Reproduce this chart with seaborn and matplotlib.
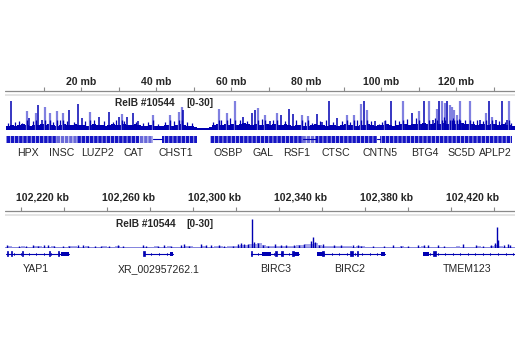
import numpy as np
import pandas as pd
import matplotlib
matplotlib.use("Agg")
import matplotlib.pyplot as plt
import seaborn as sns

sns.set_theme(style="white")
plt.rcParams['font.family'] = ['Liberation Sans', 'DejaVu Sans']
plt.rcParams['hatch.linewidth'] = 0.6

# ---------------- data: top panel (chr11, mb) ----------------
top_ticks_mb = [10, 20, 30, 40, 50, 60, 70, 80, 90, 100, 110, 120, 130]
top_label_mb = [20, 40, 60, 80, 100, 120]
top_labels = ["20 mb", "40 mb", "60 mb", "80 mb", "100 mb", "120 mb"]

top_base = [4, 5, 4, 5, 6, 5, 4, 5, 5, 6,
            5, 6, 5, 4, 5, 6, 5, 5, 6, 5,
            5, 4, 5, 6, 5, 5, 4, 5, 6, 5,
            5, 6, 5, 5, 6, 5, 4, 4, 5, 4,
            4, 4, 5, 5, 4, 5, 6, 5, 4, 4,
            3, 2, 2, 2, 3, 5, 6, 5, 6, 5,
            6, 5, 6, 7, 6, 5, 6, 5, 5, 6,
            5, 6, 5, 5, 6, 5, 4, 5, 5, 4,
            4, 5, 6, 5, 5, 4, 5, 5, 4, 5,
            6, 5, 5, 4, 5, 5, 6, 5, 4, 5,
            5, 6, 5, 4, 5, 6, 6, 5, 6, 6,
            6, 7, 6, 6, 7, 6, 7, 6, 7, 6,
            6, 7, 6, 6, 6, 5, 6, 6, 5, 6,
            6, 5, 6, 5, 5, 4]

top_peak_mb = [1.25, 5.5, 6.1, 8.0, 8.6, 9.5, 10.4, 11.7, 13.7, 15.1, 16.9, 19.3, 20.2,
               22.4, 24.9, 27.5, 30.1, 30.9, 32.2, 33.8, 35.2, 39.2, 43.7, 46.1, 46.9,
               47.2, 56.8, 58.8, 61.1, 63.2, 65.5, 66.4, 67.3, 69.1, 70.4, 72.2, 73.3,
               75.5, 76.5, 78.9, 80.6, 82.9, 84.2, 86.2, 88.3, 90.9, 92.9, 94.6, 95.5,
               96.3, 98.4, 101.1, 102.7, 105.8, 108.2, 110.2, 111.5, 112.8, 113.9,
               115.0, 115.5, 116.2, 117.1, 117.7, 118.4, 118.9, 119.5, 120.2, 121.1,
               123.7, 126.4, 128.0, 128.7, 129.5, 130.7, 132.3, 133.5, 134.0]
top_peak_h = [29, 19, 12, 17, 25, 10, 23, 17, 19, 17, 20, 26, 12,
              18, 13, 18, 13, 16, 13, 17, 9, 15, 15, 18, 23,
              20, 21, 17, 29, 13, 17, 20, 22, 15, 9, 17, 15,
              21, 16, 15, 14, 16, 8, 29, 12, 15, 15, 26, 29,
              20, 9, 9, 29, 29, 17, 19, 29, 29, 10,
              21, 29, 29, 27, 29, 25, 23, 20, 15, 29,
              29, 10, 17, 29, 13, 10, 29, 10, 29]
top_peak_kind = ["d", "l", "d", "l", "d", "d", "l", "l", "l", "l", "d", "d", "d",
                 "l", "d", "d", "d", "l", "d", "d", "d", "l", "l", "l", "l",
                 "d", "l", "l", "l", "d", "d", "d", "l", "l", "d", "l", "d",
                 "d", "d", "l", "l", "d", "d", "d", "d", "l", "l", "l", "d",
                 "l", "d", "l", "d", "l", "d", "l", "d", "l", "d",
                 "l", "d", "l", "l", "d", "l", "l", "l", "l", "l",
                 "l", "d", "l", "d", "l", "d", "d", "d", "l"]

# small spikes riding on the background
top_minor_mb = [0.5, 2.3, 3.4, 4.2, 7.2, 12.4, 14.5, 16.2, 18.0, 21.1, 23.5, 26.0,
                28.6, 29.3, 31.5, 34.6, 36.4, 37.8, 40.5, 42.5, 44.8, 48.3, 49.5,
                55.2, 57.4, 59.8, 62.4, 64.3, 68.2, 71.3, 74.4, 77.4, 79.8, 81.5,
                83.6, 85.3, 87.2, 89.5, 91.8, 93.7, 97.3, 99.5, 100.3, 103.8, 104.7,
                106.9, 109.2, 114.4, 116.8, 119.2, 120.8, 122.4, 124.6, 125.5, 127.2,
                131.5, 133.0, 134.7]
top_minor_h = [7, 8, 9, 7, 9, 8, 10, 9, 8, 9, 10, 9,
               8, 10, 9, 8, 7, 8, 6, 8, 9, 8, 7,
               8, 10, 12, 10, 9, 11, 10, 9, 10, 8, 7,
               9, 10, 8, 9, 8, 10, 9, 6, 8, 10, 9,
               11, 12, 12, 13, 12, 11, 10, 9, 10, 9,
               9, 8, 7]

# gene-dense blocks and sparse stretches in the top gene track (mb)
top_gene_blocks = [(0.0, 39.2), (41.5, 42.0), (42.0, 51.0), (54.4, 79.2),
                   (82.7, 99.0), (99.7, 135.0)]
top_gene_light = [(13.5, 19.0), (35.5, 39.2), (79.2, 82.7)]
top_gene_lines = [(39.2, 41.5), (99.0, 99.7), (79.2, 82.7)]
top_gene_names = ["HPX", "INSC", "LUZP2", "CAT", "CHST1", "OSBP", "GAL", "RSF1",
                  "CTSC", "CNTN5", "BTG4", "SC5D", "APLP2"]
top_gene_pos = [5.9, 14.7, 24.3, 34.1, 45.3, 59.2, 68.5, 77.6, 88.0, 99.7,
                111.7, 121.6, 130.4]

# ---------------- data: bottom panel (kb) ----------------
bot_ticks_kb = [102210, 102230, 102250, 102270, 102290, 102310, 102330, 102350,
                102370, 102390, 102410, 102430]
bot_label_kb = [102220, 102260, 102300, 102340, 102380, 102420]
bot_labels = ["102,220 kb", "102,260 kb", "102,300 kb", "102,340 kb",
              "102,380 kb", "102,420 kb"]

bot_base = [1, 2, 1, 1, 2, 1, 1, 2, 2, 1, 1, 2, 1, 1, 1, 2, 2, 1, 1, 2, 1, 1, 1, 2, 1, 1, 2, 1, 1, 1,
            1, 1, 1, 1, 1, 2, 1, 1, 2, 1, 1, 1, 2, 2, 1, 1, 2, 1, 1, 2, 2, 1, 2, 2, 2, 3, 3, 4, 4, 5,
            3, 2, 2, 2, 2, 2, 2, 2, 3, 3, 4, 4, 5, 3, 2, 2, 2, 2, 2, 2, 2, 1, 2, 2, 1, 1, 1, 1, 1, 1,
            1, 1, 2, 1, 1, 1, 1, 2, 1, 1, 1, 1, 1, 1, 1, 2, 1, 1, 1, 1, 2, 1, 1, 2, 3, 2, 1, 1, 1]

bot_spike_kb = [102203.8, 102209.3, 102212.6, 102215.8, 102218.1, 102220.9, 102222.8,
                102225.6, 102229.7, 102232.5, 102236.7, 102239.0, 102241.3, 102244.6,
                102247.4, 102251.1, 102255.3, 102257.6, 102266.9, 102268.3, 102273.8,
                102276.6, 102279.9, 102284.5, 102285.9, 102288.2, 102293.8, 102296.1,
                102298.4, 102302.1, 102304.5, 102308.6, 102310.9, 102312.3, 102313.7,
                102315.6, 102317.4, 102318.4, 102320.2, 102322.6, 102324.9, 102328.1,
                102330.9, 102333.2, 102336.9, 102339.3, 102341.6, 102344.8, 102345.8,
                102346.7, 102348.5, 102350.4, 102355.5, 102358.7, 102364.3, 102366.6,
                102368.0, 102373.6, 102378.7, 102382.9, 102386.6, 102389.8, 102394.5,
                102397.3, 102399.1, 102403.8, 102406.5, 102415.4, 102421.4, 102424.6,
                102428.4, 102430.2, 102431.1, 102431.6, 102434.4, 102436.2, 102437.1]
bot_spike_h = [3, 2, 2, 3, 2, 3, 3, 2, 2, 2, 3, 3, 2, 2,
               2, 2, 3, 2, 3, 2, 2, 3, 2, 3, 4, 2, 4, 3,
               3, 3, 2, 2, 4, 5, 4, 4, 29, 6, 5, 3, 2, 4,
               3, 3, 3, 3, 4, 7, 11, 6, 3, 4, 3, 3, 3, 3,
               2, 2, 2, 3, 2, 2, 3, 3, 3, 3, 2, 4, 3, 2,
               3, 5, 21, 8, 3, 4, 3]

# genes: line (start, end), exons (start, end, tall)
bot_genes = {
    "YAP1": dict(line=(102203.3, 102232.5),
                 exons=[(102203.6, 102204.1, 1), (102205.4, 102205.9, 1),
                        (102210.5, 102211.0, 1), (102223.0, 102223.5, 1),
                        (102227.2, 102227.7, 1), (102228.8, 102232.5, 0)],
                 label=102217.2),
    "XR_002957262.1": dict(line=(102267.3, 102280.8),
                           exons=[(102267.1, 102267.6, 1), (102279.6, 102280.8, 0)],
                           label=102274.3),
    "BIRC3": dict(line=(102317.0, 102339.3),
                  exons=[(102317.2, 102317.7, 1), (102321.9, 102326.5, 0),
                         (102328.1, 102329.0, 1), (102330.9, 102331.8, 1),
                         (102336.0, 102336.8, 1), (102336.8, 102339.3, 0)],
                  label=102328.6),
    "BIRC2": dict(line=(102347.6, 102379.2),
                  exons=[(102347.6, 102351.0, 0), (102349.8, 102351.0, 1),
                         (102363.1, 102364.2, 1), (102366.3, 102366.8, 1),
                         (102377.3, 102379.2, 0)],
                  label=102362.9),
    "TMEM123": dict(line=(102396.7, 102440.0),
                    exons=[(102396.7, 102399.7, 0), (102401.3, 102402.8, 1)],
                    label=102417.2),
}

# ---------------- drawing ----------------
W, H = 520, 350
fig = plt.figure(figsize=(5.2, 3.5), dpi=100)
fig.patch.set_facecolor("white")

DARK = "#0000b2"
LIGHT = "#8080e0"
TXT = "#262626"
NARROW = ["Liberation Sans Narrow", "Liberation Sans"]


def add_ax(x0, y0, x1, y1):
    ax = fig.add_axes([x0 / W, 1 - y1 / H, (x1 - x0) / W, (y1 - y0) / H])
    ax.set_axis_off()
    return ax


def ftext(x, y, s, **kw):
    fig.text(x / W, 1 - y / H, s, **kw)


def ruler(y_line, y_label, xlim, ticks, label_pos, labels):
    ax = add_ax(5, y_line - 14, 515, y_line + 7)
    ax.set_xlim(*xlim)
    ax.set_ylim(-7, 14)
    ax.axhline(0, color="#8a8a8a", lw=0.9)
    ax.vlines(ticks, 0, 4, color="#8a8a8a", lw=0.8)
    ax.axhspan(-5, -3, color="#e4e4e4", lw=0)
    for p, l in zip(label_pos, labels):
        ax.text(p, y_line - y_label, l, ha="center", va="center",
                fontsize=7.6, fontweight="bold", color=TXT)
    return ax


# ---- top panel ----
top_xlim = (-0.27, 135.73)
ruler(91.5, 82, top_xlim, top_ticks_mb, top_label_mb, top_labels)

ax = add_ax(5, 100, 515, 130.5)
base_df = pd.DataFrame(dict(pos=np.arange(len(top_base)) + 0.5, w=top_base))
ax.bar(base_df.pos, base_df.w, width=1.0, color=DARK, lw=0)
ax.set_xlim(*top_xlim)
ax.set_ylim(0, 30)
pk = pd.DataFrame(dict(pos=top_peak_mb, h=top_peak_h, kind=top_peak_kind))
light = pk[pk.kind == "l"]
dark = pk[pk.kind == "d"]
ax.vlines(light.pos, 0, light.h, color=LIGHT, lw=1.6)
ax.vlines(light.pos, 0, 10, color=DARK, lw=1.0)
ax.vlines(dark.pos, 0, dark.h, color=DARK, lw=1.1)
mn = pd.DataFrame(dict(pos=top_minor_mb, h=top_minor_h))
ax.vlines(mn.pos, 0, mn.h, color=DARK, lw=0.9)
ftext(115, 103.5, "RelB #10544", ha="left", va="center", fontsize=7.3,
      fontweight="bold", color=TXT)
ftext(186, 103.5, "[0-30]", ha="left", va="center", fontsize=7.3,
      fontweight="bold", color=TXT)

axg = add_ax(5, 135.5, 515, 142.5)
axg.set_xlim(*top_xlim)
axg.set_ylim(0, 1)
for s, e in top_gene_lines:
    axg.plot([s, e], [0.5, 0.5], color=DARK, lw=0.8)
for s, e in top_gene_blocks:
    axg.add_patch(plt.Rectangle((s, 0.0), e - s, 1.0, facecolor="#1515c4",
                                edgecolor="#c8c8f2", hatch="||||", lw=0))
for s, e in top_gene_light:
    axg.add_patch(plt.Rectangle((s, 0.0), e - s, 1.0, facecolor="#6a6ad8",
                                edgecolor="#eeeefc", hatch="||||", lw=0))
for n, p in zip(top_gene_names, top_gene_pos):
    axg.text(p, -1.5, n, ha="center", va="center", fontsize=7.6, color=TXT,
             family=NARROW)

# ---- bottom panel ----
bot_xlim = (102202.8, 102439.6)
ruler(211, 198, bot_xlim, bot_ticks_kb, bot_label_kb, bot_labels)

axb = add_ax(5, 218, 515, 248)
bedges = 102202 + 2 * np.arange(len(bot_base) + 1)
bb_df = pd.DataFrame(dict(pos=bedges[:-1] + 1, w=bot_base))
axb.bar(bb_df.pos, bb_df.w, width=2.0, color="#3a3ad0", alpha=0.45, lw=0)
axb.set_xlim(*bot_xlim)
axb.set_ylim(0, 30)
sp = pd.DataFrame(dict(pos=bot_spike_kb, h=bot_spike_h))
axb.vlines(sp.pos, 0, sp.h, color=DARK, lw=1.0)
axb.axhline(0.3, color=DARK, lw=1.0)
ftext(115.5, 224, "RelB #10544", ha="left", va="center", fontsize=7.3,
      fontweight="bold", color=TXT)
ftext(186, 224, "[0-30]", ha="left", va="center", fontsize=7.3,
      fontweight="bold", color=TXT)

axbg = add_ax(5, 248, 515, 260)
for name, g in bot_genes.items():
    s, e = g["line"]
    sns.lineplot(x=[s, e], y=[0.5, 0.5], color=DARK, lw=0.8, ax=axbg)
    for t in np.arange(s + 3.5, e - 1, 3.5):
        axbg.plot([t, t], [0.42, 0.58], color=DARK, lw=0.6)
    for es, ee, tall in g["exons"]:
        if tall:
            axbg.add_patch(plt.Rectangle((es, 0.3), ee - es, 0.45, facecolor=DARK,
                                         edgecolor=DARK, lw=0.5))
        else:
            axbg.add_patch(plt.Rectangle((es, 0.36), ee - es, 0.33, facecolor=DARK,
                                         lw=0))
    axbg.text(g["label"], -0.75, name, ha="center", va="center", fontsize=7.6,
              color=TXT, family=NARROW)
axbg.set_axis_off()
axbg.set_xlim(*bot_xlim)
axbg.set_ylim(0, 1)

fig.savefig("out.png", dpi=100, facecolor="white")
